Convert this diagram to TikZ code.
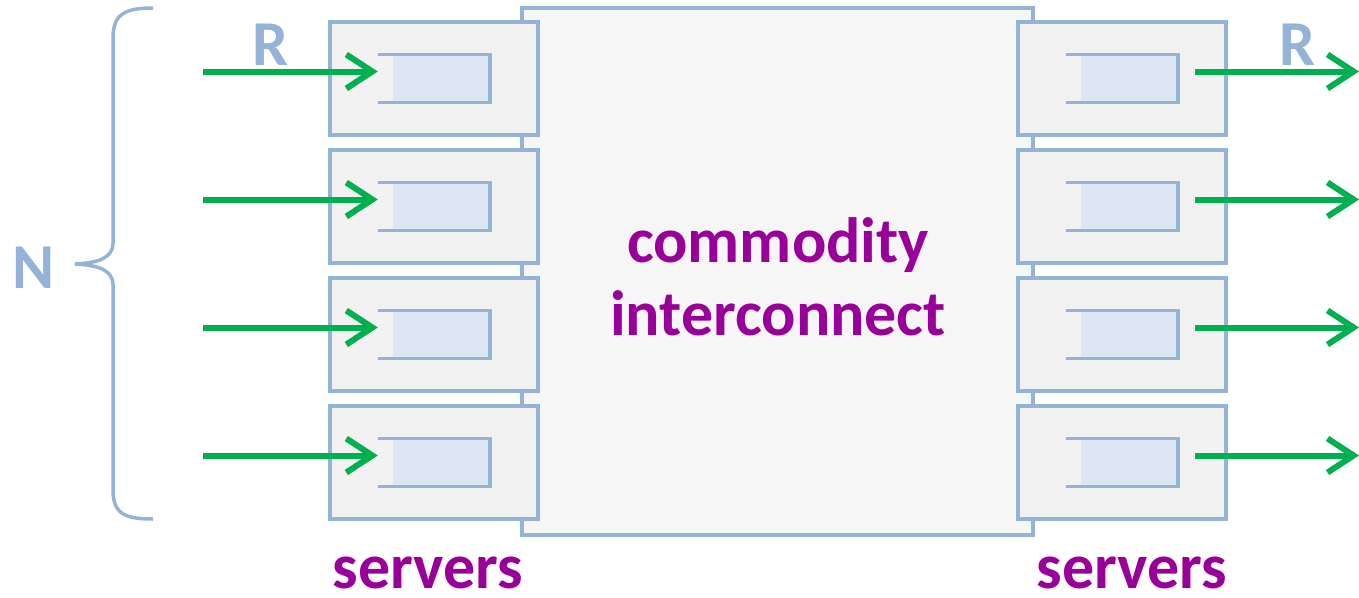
\documentclass[tikz,border=0pt]{standalone}
\usepackage{fontspec}
\setmainfont{Carlito}
\usetikzlibrary{arrows.meta,calc}
\definecolor{edgeblue}{HTML}{95B3D7}
\definecolor{srvfill}{HTML}{F2F2F2}
\definecolor{corefill}{HTML}{F6F6F6}
\definecolor{qfill}{HTML}{DCE6F2}
\definecolor{flowgreen}{HTML}{00B050}
\definecolor{labpurple}{HTML}{990099}
\begin{document}
\begin{tikzpicture}[x=1pt,y=-1pt,
  core/.style={draw=edgeblue,fill=corefill,line width=4pt,minimum width=511pt,minimum height=527pt,inner sep=0pt},
  server/.style={draw=edgeblue,fill=srvfill,line width=4pt,minimum width=208pt,minimum height=113pt,inner sep=0pt},
  queue/.style={minimum width=112pt,minimum height=48pt,inner sep=0pt},
  qline/.style={draw=edgeblue,line width=3.5pt},
  flow/.style={draw=flowgreen,line width=6pt,-{Straight Barb[length=26pt,width=34pt,line width=6pt]}},
  bigtext/.style={font=\fontsize{64}{73}\selectfont\bfseries,inner sep=0pt},
  purplelab/.style={bigtext,text=labpurple},
  bluelab/.style={bigtext,text=edgeblue}
]
\useasboundingbox (0,0) rectangle (1359,597);

% interconnect fabric
\node[core] (core) at (777.5,271.5) {};
\node[purplelab,align=center,anchor=base] (cname) at (778,335) {commodity\\interconnect};

% server racks with their queues
\foreach \i/\y in {1/78.5,2/206.5,3/334.5,4/462.5}{
  \node[server] (L\i) at (434,\y) {};
  \node[server] (R\i) at (1122,\y) {};
  \node[queue] (LQ\i) at (434,\y) {};
  \node[queue] (RQ\i) at (1122,\y) {};
  \fill[qfill] ($(LQ\i.north west)+(15,0)$) rectangle (LQ\i.south east);
  \fill[qfill] ($(RQ\i.north west)+(15,0)$) rectangle (RQ\i.south east);
  \draw[qline] (LQ\i.north west) -- (LQ\i.north east) -- (LQ\i.south east) -- (LQ\i.south west);
  \draw[qline] (RQ\i.north west) -- (RQ\i.north east) -- (RQ\i.south east) -- (RQ\i.south west);
  % incoming and outgoing traffic
  \coordinate (in\i) at (203,\y-7);
  \coordinate (out\i) at (1359,\y-7);
  \draw[flow] (in\i) -- ($(LQ\i.west)+(0,-7)$);
  \draw[flow] ($(RQ\i.east)+(17,-7)$) -- (out\i);
}

% rate labels
\node[bluelab,anchor=base] (rin) at (271,65) {R};
\node[bluelab,anchor=base] (rout) at (1297,65) {R};

% brace spanning the N servers
\draw[edgeblue,line width=3.5pt]
  (153,8) .. controls (125,8) and (113,14) .. (113,38)
  -- (113,243) .. controls (113,258) and (98,263) .. (75,264)
  .. controls (98,265) and (113,270) .. (113,285)
  -- (113,490) .. controls (113,514) and (125,519) .. (153,519);
\node[bluelab,anchor=base] (nlab) at (34,288) {N};

% captions
\node[purplelab,anchor=base] (sl) at (428,588) {servers};
\node[purplelab,anchor=base] (sr) at (1132,588) {servers};
\end{tikzpicture}
\end{document}
